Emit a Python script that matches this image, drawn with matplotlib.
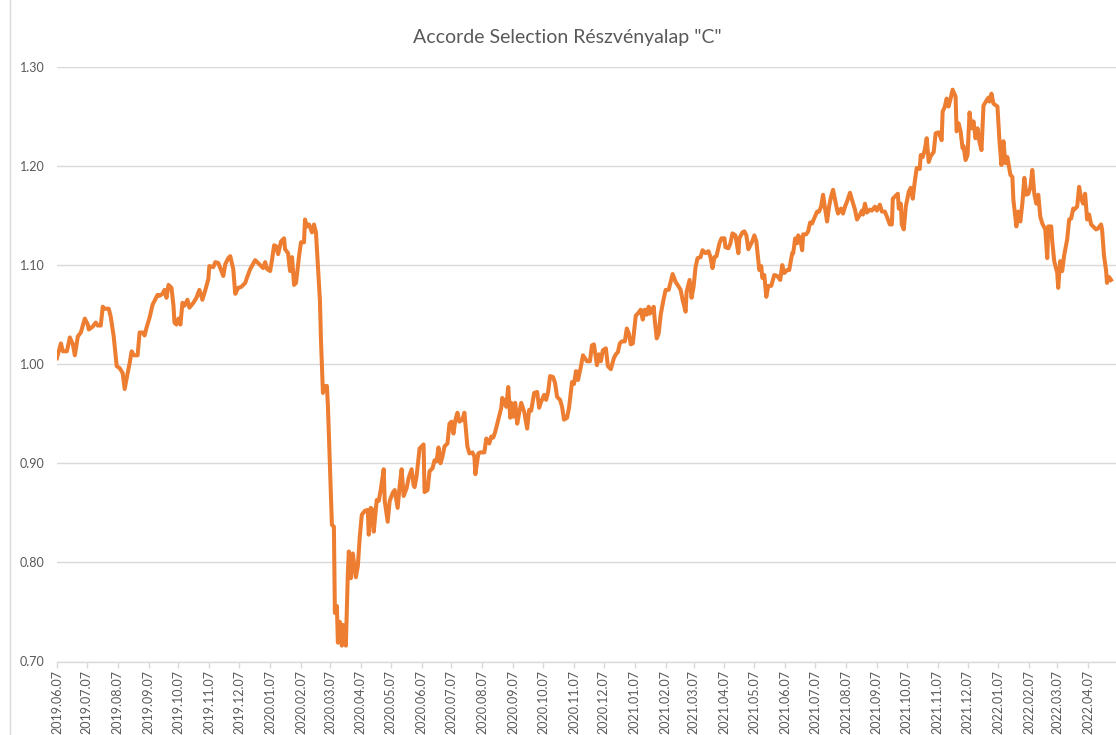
import pandas as pd
import matplotlib.pyplot as plt
import matplotlib.dates as mdates
from matplotlib.lines import Line2D

# net asset value, x = days since 2019.06.07
start_date = '2019-06-07'

day_offset = [
    0, 4, 6, 10, 13, 16, 18, 21, 24, 28, 31, 32, 36, 39, 41, 44, 46, 48, 52, 54,
    57, 60, 63, 66, 68, 71, 73, 75, 77, 81, 83, 86, 88, 90, 93, 96, 98, 101, 103, 106,
    108, 110, 112, 115, 117, 118, 120, 122, 124, 126, 128, 131, 133, 137, 140, 143, 146, 149, 152, 153,
    157, 159, 162, 164, 167, 169, 172, 174, 177, 179, 182, 185, 189,
    191, 194, 199, 203, 207, 209, 211, 214, 216, 218, 220, 222, 225, 228, 229, 232, 234, 236, 238, 240,
    243, 245, 248, 249, 251, 253, 256, 258, 260, 262, 264, 265, 267, 269, 271, 272, 274, 276, 278, 279,
    281, 282, 284, 286, 287, 290, 292, 293, 295, 297, 300, 302, 304, 306, 309, 312, 313, 315, 317, 318,
    321, 323, 325, 328, 329, 332, 334, 337, 339, 342, 344, 346, 348, 351, 353, 356, 358,
    359, 361, 363, 364, 368, 369, 372, 374, 377, 379, 381, 383, 385, 387, 389, 392, 394, 396, 398, 400,
    402, 404, 407, 409, 412, 414, 417, 419, 420, 423, 425, 429, 431, 434, 436, 438, 440, 443, 446, 447,
    449, 451, 453, 455, 456, 458, 460, 462, 464, 466, 469, 472, 474, 476, 479, 482, 484, 486, 489, 491,
    493, 495, 498, 500, 502, 505, 507, 509, 512, 514, 517, 519, 521, 523, 526, 528,
    532, 535, 537, 539, 542, 544, 546, 548, 551, 553, 556, 559, 561, 563, 565, 567, 570, 572, 574, 576,
    578, 581, 583, 586, 588, 590, 592, 594, 595, 597, 599, 600, 602, 604, 606, 609, 611, 614, 616, 618,
    621, 623, 626, 628, 631, 632, 635, 637, 639, 641, 643, 646, 648, 651, 654, 656, 658, 660, 662, 665,
    667, 670, 671, 674, 676, 678, 681, 684, 685, 688, 690, 692, 694, 697, 699,
    700, 702, 705, 707, 708, 710, 712, 714, 717, 720, 723, 726, 728, 730, 733, 735, 738, 739, 741, 743,
    744, 746, 748, 749, 752, 754, 756, 758, 760, 763, 765, 767, 769, 771, 773, 775, 777, 779, 781, 783,
    784, 787, 789, 791, 793, 796, 798, 801, 803, 806, 808, 809, 811, 813, 816, 818, 821, 823, 826, 828,
    831, 833, 836, 838, 839, 842, 844, 845, 847, 848, 850, 852, 855, 857, 859, 861,
    863, 866, 867, 869, 871, 873, 875, 877, 880, 882, 885, 888, 889, 891, 893, 895, 897, 899, 902, 903,
    905, 907, 909, 910, 912, 914, 916, 918, 920, 922, 924, 926, 928, 930, 933, 935, 936, 938, 940, 944,
    946, 948, 950, 952, 954, 957, 959, 960, 963, 965, 967, 969, 971, 973, 975, 977, 979, 981, 983, 985,
    987, 989, 992, 994, 995, 998, 999, 1001, 1004, 1005, 1007, 1009, 1011, 1014, 1016, 1018, 1020, 1021, 1024, 1026,
    1028, 1030, 1032, 1034, 1036, 1038, 1040, 1043, 1045, 1048, 1049, 1051, 1053, 1054, 1056, 1058,
]

nav = [
    1.006, 1.021, 1.013, 1.013, 1.027, 1.020, 1.009, 1.028, 1.032, 1.046, 1.040, 1.035, 1.038, 1.042, 1.039, 1.039, 1.058, 1.056, 1.056, 1.048,
    1.028, 0.998, 0.996, 0.991, 0.975, 0.991, 1.001, 1.013, 1.009, 1.009, 1.032, 1.032, 1.029, 1.037, 1.047, 1.060, 1.064, 1.070, 1.069, 1.071,
    1.075, 1.067, 1.080, 1.077, 1.059, 1.042, 1.040, 1.046, 1.040, 1.062, 1.059, 1.065, 1.057, 1.062, 1.067, 1.075, 1.065, 1.075, 1.086, 1.099,
    1.098, 1.103, 1.102, 1.097, 1.089, 1.101, 1.107, 1.109, 1.096, 1.071, 1.077, 1.078, 1.082,
    1.088, 1.096, 1.105, 1.101, 1.097, 1.103, 1.096, 1.094, 1.106, 1.120, 1.119, 1.111, 1.124, 1.127, 1.116, 1.112, 1.094, 1.108, 1.080, 1.082,
    1.109, 1.123, 1.123, 1.146, 1.139, 1.141, 1.133, 1.141, 1.133, 1.099, 1.064, 1.025, 0.971, 0.978, 0.978, 0.958, 0.897, 0.838, 0.836, 0.749,
    0.756, 0.719, 0.740, 0.716, 0.737, 0.716, 0.789, 0.811, 0.784, 0.809, 0.785, 0.796, 0.826, 0.848, 0.852, 0.853, 0.828, 0.855, 0.853, 0.831,
    0.863, 0.862, 0.873, 0.894, 0.862, 0.841, 0.862, 0.870, 0.873, 0.855, 0.877, 0.894, 0.867, 0.875, 0.885, 0.894, 0.878,
    0.876, 0.887, 0.905, 0.915, 0.919, 0.871, 0.873, 0.892, 0.895, 0.903, 0.902, 0.916, 0.900, 0.907, 0.917, 0.920, 0.940, 0.942, 0.930, 0.944,
    0.951, 0.942, 0.944, 0.951, 0.917, 0.910, 0.911, 0.907, 0.889, 0.910, 0.911, 0.911, 0.925, 0.920, 0.927, 0.926, 0.932, 0.944, 0.956, 0.966,
    0.962, 0.957, 0.977, 0.946, 0.961, 0.947, 0.961, 0.940, 0.951, 0.961, 0.952, 0.935, 0.954, 0.953, 0.971, 0.972, 0.956, 0.962, 0.969, 0.964,
    0.972, 0.988, 0.987, 0.981, 0.967, 0.964, 0.957, 0.944, 0.946, 0.956, 0.982, 0.980, 0.993, 0.984, 0.998, 1.009,
    1.003, 1.003, 1.019, 1.020, 0.999, 1.010, 1.003, 1.014, 1.016, 0.998, 0.995, 1.006, 1.010, 1.012, 1.021, 1.023, 1.023, 1.036, 1.031, 1.020,
    1.021, 1.049, 1.051, 1.055, 1.045, 1.055, 1.050, 1.058, 1.051, 1.053, 1.058, 1.045, 1.026, 1.031, 1.050, 1.066, 1.075, 1.075, 1.083, 1.091,
    1.083, 1.080, 1.075, 1.065, 1.053, 1.073, 1.085, 1.067, 1.078, 1.098, 1.107, 1.108, 1.115, 1.112, 1.114, 1.108, 1.097, 1.108, 1.109, 1.122,
    1.127, 1.127, 1.118, 1.117, 1.122, 1.132, 1.130, 1.112, 1.127, 1.133, 1.134, 1.130, 1.116, 1.122, 1.127,
    1.130, 1.124, 1.095, 1.099, 1.087, 1.090, 1.068, 1.079, 1.079, 1.090, 1.089, 1.085, 1.100, 1.092, 1.095, 1.095, 1.112, 1.112, 1.127, 1.122,
    1.130, 1.127, 1.115, 1.131, 1.131, 1.134, 1.143, 1.142, 1.147, 1.154, 1.154, 1.159, 1.171, 1.157, 1.144, 1.159, 1.169, 1.176, 1.166, 1.156,
    1.152, 1.157, 1.152, 1.159, 1.164, 1.173, 1.166, 1.156, 1.146, 1.151, 1.155, 1.151, 1.162, 1.153, 1.156, 1.155, 1.159, 1.155, 1.161, 1.154,
    1.154, 1.149, 1.141, 1.141, 1.167, 1.170, 1.172, 1.157, 1.162, 1.141, 1.136, 1.159, 1.174, 1.178, 1.167, 1.184,
    1.198, 1.197, 1.211, 1.209, 1.216, 1.228, 1.204, 1.210, 1.214, 1.233, 1.234, 1.226, 1.255, 1.259, 1.268, 1.260, 1.268, 1.277, 1.270, 1.235,
    1.243, 1.235, 1.218, 1.220, 1.206, 1.211, 1.254, 1.238, 1.245, 1.228, 1.238, 1.224, 1.216, 1.261, 1.266, 1.269, 1.265, 1.273, 1.263, 1.260,
    1.226, 1.201, 1.225, 1.203, 1.209, 1.191, 1.189, 1.166, 1.139, 1.154, 1.144, 1.162, 1.188, 1.171, 1.172, 1.178, 1.196, 1.172, 1.162, 1.171,
    1.149, 1.142, 1.136, 1.107, 1.139, 1.139, 1.124, 1.104, 1.092, 1.077, 1.104, 1.094, 1.110, 1.126, 1.146, 1.147, 1.157, 1.156, 1.159, 1.179,
    1.167, 1.162, 1.172, 1.146, 1.151, 1.141, 1.139, 1.136, 1.137, 1.141, 1.136, 1.109, 1.095, 1.082, 1.088, 1.085,
]

assert len(day_offset) == len(nav)

title = 'Accorde Selection Részvényalap "C"'
y_ticks = [0.70, 0.80, 0.90, 1.00, 1.10, 1.20, 1.30]

dates = pd.Timestamp(start_date) + pd.to_timedelta(day_offset, unit='D')
tick_dates = pd.date_range(start_date, '2022-04-07', freq=pd.DateOffset(months=1))

plt.rcParams['font.family'] = ['Lato', 'DejaVu Sans']

fig = plt.figure(figsize=(11.16, 7.35), dpi=100)
ax = fig.add_axes([0.051, 0.100, 0.949, 0.809])

ax.plot(dates, nav, color='#ED7D31', linewidth=2.9, solid_joinstyle='round', zorder=3)

ax.set_ylim(0.70, 1.30)
ax.set_yticks(y_ticks)
ax.set_yticklabels([f'{v:.2f}' for v in y_ticks])
ax.set_xlim(pd.Timestamp(start_date), pd.Timestamp(start_date) + pd.Timedelta(days=1063))
ax.set_xticks(tick_dates)
ax.xaxis.set_major_formatter(mdates.DateFormatter('%Y.%m.%d'))

ax.grid(axis='y', color='#D9D9D9', linewidth=1.0)
ax.set_axisbelow(True)
for side in ['left', 'right', 'top']:
    ax.spines[side].set_visible(False)
ax.spines['bottom'].set_color('#D9D9D9')
ax.spines['bottom'].set_linewidth(1.0)

ax.tick_params(axis='y', length=0, pad=9, labelsize=9, labelcolor='#595959')
ax.tick_params(axis='x', length=4, width=1, color='#D9D9D9', pad=2,
               labelsize=9, labelcolor='#595959', labelrotation=90)

fig.text(0.508, 0.949, title, ha='center', va='center', fontsize=14, color='#595959')

# left border of the chart area
fig.add_artist(Line2D([0.009, 0.009], [0, 1], transform=fig.transFigure, color='#D9D9D9', linewidth=1.0))

fig.savefig('out.png', dpi=100)
